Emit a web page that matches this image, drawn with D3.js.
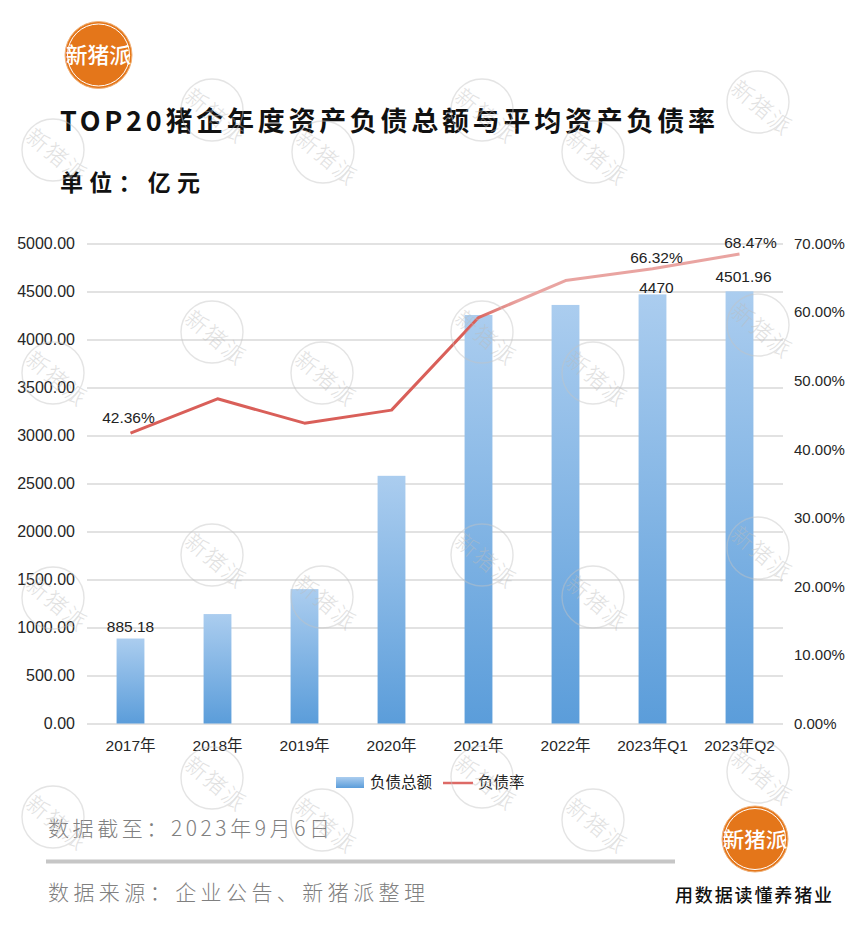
<!DOCTYPE html>
<html><head><meta charset="utf-8">
<script src="https://cdn.jsdelivr.net/npm/d3@7/dist/d3.min.js"></script>
<style>html,body{margin:0;padding:0;background:#fff;} svg{display:block;}</style>
</head><body><svg id="c" width="863" height="936"></svg>
<script>
// ---- data ----
const categories = ["2017年","2018年","2019年","2020年","2021年","2022年","2023年Q1","2023年Q2"];
const debtTotal  = [885.18, 1140, 1400, 2580, 4255, 4360, 4470, 4501.96];
const debtRatio  = [0.4236, 0.4735, 0.438, 0.457, 0.592, 0.646, 0.6632, 0.6847];
const leftTicks  = [0,500,1000,1500,2000,2500,3000,3500,4000,4500,5000];
const rightTicks = [0,0.1,0.2,0.3,0.4,0.5,0.6,0.7];
const barLabelIdx  = [0, 6, 7];
const lineLabelIdx = [0, 6, 7];
const seriesNames = ["负债总额", "负债率"];
const titleText = "TOP20猪企年度资产负债总额与平均资产负债率";
const unitText = "单位：亿元";
const dateText = "数据截至：2023年9月6日";
const sourceText = "数据来源：企业公告、新猪派整理";
const sloganText = "用数据读懂养猪业";
const brandText = "新猪派";

// ---- layout ----
const svg = d3.select("#c");
const W = 863, H = 936;
const plot = {left: 87, right: 783, top: 243.5, bottom: 723.5};
const numFont = "'Liberation Sans', Arial, 'Noto Sans CJK SC', sans-serif";
const cjkFont = "'Noto Sans CJK SC', 'Liberation Sans', sans-serif";
const red = "#d95f59", pink = "#e9a4a1";

svg.append("rect").attr("width", W).attr("height", H).attr("fill", "#fff");

const defs = svg.append("defs");
const bg = defs.append("linearGradient").attr("id","barGrad").attr("x1",0).attr("y1",0).attr("x2",0).attr("y2",1);
bg.append("stop").attr("offset","0%").attr("stop-color","#abcdef");
bg.append("stop").attr("offset","100%").attr("stop-color","#5b9dda");

const x = d3.scaleBand().domain(categories).range([plot.left, plot.right]).paddingInner(0.68).paddingOuter(0.34);
const yL = d3.scaleLinear().domain([0,5000]).range([plot.bottom, plot.top]);
const yR = d3.scaleLinear().domain([0,0.7]).range([plot.bottom, plot.top]);
const cx = c => x(c) + x.bandwidth()/2;

const lg = defs.append("linearGradient").attr("id","lineGrad").attr("gradientUnits","userSpaceOnUse")
  .attr("x1", cx(categories[4]) - 5).attr("y1",0).attr("x2", cx(categories[4]) + 40).attr("y2",0);
lg.append("stop").attr("offset","0%").attr("stop-color",red);
lg.append("stop").attr("offset","100%").attr("stop-color",pink);

// gridlines
const grid = svg.append("g").attr("transform",`translate(${plot.left},0)`)
  .call(d3.axisRight(yL).tickValues(leftTicks).tickSize(plot.right-plot.left).tickFormat(""));
grid.select(".domain").remove();
grid.selectAll("line").attr("stroke","#d9d9d9").attr("stroke-width",1.4);

// left axis
const ax = svg.append("g").attr("transform",`translate(${plot.left},0)`)
  .call(d3.axisLeft(yL).tickValues(leftTicks).tickSize(0).tickPadding(12).tickFormat(d3.format(".2f")));
ax.select(".domain").remove();
ax.selectAll("text").attr("font-family",numFont).attr("font-size",16).attr("fill","#262626");

// right axis
const ar = svg.append("g").attr("transform",`translate(${plot.right},0)`)
  .call(d3.axisRight(yR).tickValues(rightTicks).tickSize(0).tickPadding(11).tickFormat(d3.format(".2%")));
ar.select(".domain").remove();
ar.selectAll("text").attr("font-family",numFont).attr("font-size",15).attr("fill","#262626");

// x axis
const axb = svg.append("g").attr("transform",`translate(0,${plot.bottom})`)
  .call(d3.axisBottom(x).tickSize(0).tickPadding(16));
axb.select(".domain").remove();
axb.selectAll("text").attr("font-family",numFont).attr("font-size",15.5).attr("fill","#262626");

// bars
svg.append("g").selectAll("rect").data(debtTotal).join("rect")
  .attr("x",(d,i)=>x(categories[i])).attr("width",x.bandwidth())
  .attr("y",d=>yL(d)).attr("height",d=>yL(0)-yL(d)).attr("fill","url(#barGrad)");

// line
const line = d3.line().x((d,i)=>cx(categories[i])).y(d=>yR(d));
svg.append("path").datum(debtRatio).attr("d",line).attr("fill","none")
  .attr("stroke","url(#lineGrad)").attr("stroke-width",3).attr("stroke-linejoin","round");

// data labels
const barLabelOff = {0:[0,-7], 6:[4,-1], 7:[4,-9]};
svg.append("g").selectAll("text").data(barLabelIdx).join("text")
  .attr("x",i=>cx(categories[i]) + barLabelOff[i][0]).attr("y",i=>yL(debtTotal[i]) + barLabelOff[i][1])
  .attr("text-anchor","middle").attr("font-family",numFont).attr("font-size",15.5).attr("fill","#222")
  .text(i=>String(debtTotal[i]));
const lineLabelOff = {0:[-2,-10], 6:[4,-6], 7:[11,-6]};
svg.append("g").selectAll("text").data(lineLabelIdx).join("text")
  .attr("x",i=>cx(categories[i]) + lineLabelOff[i][0]).attr("y",i=>yR(debtRatio[i]) + lineLabelOff[i][1])
  .attr("text-anchor","middle").attr("font-family",numFont).attr("font-size",15.5).attr("fill","#222")
  .text(i=>(debtRatio[i]*100).toFixed(2)+"%");

// legend
const leg = svg.append("g");
leg.append("rect").attr("x",336).attr("y",777).attr("width",28).attr("height",11).attr("fill","url(#barGrad)");
leg.append("text").attr("x",370).attr("y",783).attr("dy","0.35em").attr("font-family",cjkFont).attr("font-size",15.5).attr("fill","#222").text(seriesNames[0]);
leg.append("line").attr("x1",443).attr("x2",473).attr("y1",783).attr("y2",783).attr("stroke","#dd6a66").attr("stroke-width",2.5);
leg.append("text").attr("x",478).attr("y",783).attr("dy","0.35em").attr("font-family",cjkFont).attr("font-size",15.5).attr("fill","#222").text(seriesNames[1]);

// title & unit
svg.append("text").attr("x",60).attr("y",131).attr("font-family",cjkFont).attr("font-weight",700)
  .attr("font-size",27).attr("fill","#111").attr("textLength",655).attr("lengthAdjust","spacing").text(titleText);
svg.append("text").attr("x",60).attr("y",191).attr("font-family",cjkFont).attr("font-weight",700)
  .attr("font-size",23).attr("fill","#111").attr("textLength",140).attr("lengthAdjust","spacing").text(unitText);

// footer
svg.append("text").attr("x",48).attr("y",836).attr("font-family",cjkFont).attr("font-weight",300)
  .attr("font-size",21).attr("fill","#808080").attr("textLength",282).attr("lengthAdjust","spacing").text(dateText);
svg.append("rect").attr("x",46).attr("y",859.5).attr("width",629).attr("height",4).attr("fill","#c6c6c6");
svg.append("text").attr("x",48).attr("y",900).attr("font-family",cjkFont).attr("font-weight",300)
  .attr("font-size",21).attr("fill","#808080").attr("textLength",377).attr("lengthAdjust","spacing").text(sourceText);
svg.append("text").attr("x",675).attr("y",902).attr("font-family",cjkFont).attr("font-weight",500)
  .attr("font-size",18).attr("fill","#111").attr("textLength",157).attr("lengthAdjust","spacing").text(sloganText);

// logos
function logo(cxp, cyp, r, fs){
  const g = svg.append("g");
  g.append("circle").attr("cx",cxp).attr("cy",cyp).attr("r",r).attr("fill","#e4761a").attr("stroke","#f0b27a").attr("stroke-width",1);
  g.append("circle").attr("cx",cxp).attr("cy",cyp).attr("r",r-2.5).attr("fill","none").attr("stroke","#fff").attr("stroke-width",1);
  g.append("text").attr("x",cxp).attr("y",cyp).attr("dy","0.36em").attr("text-anchor","middle")
    .attr("font-family",cjkFont).attr("font-weight",500).attr("font-size",fs).attr("fill","#fff")
    .attr("textLength",r*1.95).attr("lengthAdjust","spacingAndGlyphs").text(brandText);
}
logo(98.5, 55, 33.5, 22);
logo(755, 839, 33, 21);

// watermarks
const wmPos = [
  [53,150],[212,110],[323,152],[482,110],[593,152],[758,102],
  [53,373],[212,332],[322,373],[482,332],[593,373],[758,325],
  [53,598],[212,555],[322,597],[482,555],[593,597],[758,548],
  [53,817],[212,778],[322,820],[482,777],[593,820],[758,772]
];
const wm = svg.append("g").attr("pointer-events","none");
wmPos.forEach(([px,py])=>{
  const g = wm.append("g").attr("transform",`translate(${px},${py})`).attr("opacity",0.45);
  g.append("circle").attr("r",31).attr("fill","none").attr("stroke","#c4c4c4").attr("stroke-width",1.4);
  g.append("g").attr("transform","translate(4,6) rotate(40)")
    .append("text").attr("text-anchor","middle").attr("dy","0.36em")
    .attr("font-family",cjkFont).attr("font-weight",300).attr("font-size",22).attr("fill","#bdbdbd")
    .attr("letter-spacing",2).text(brandText);
});
</script></body></html>
